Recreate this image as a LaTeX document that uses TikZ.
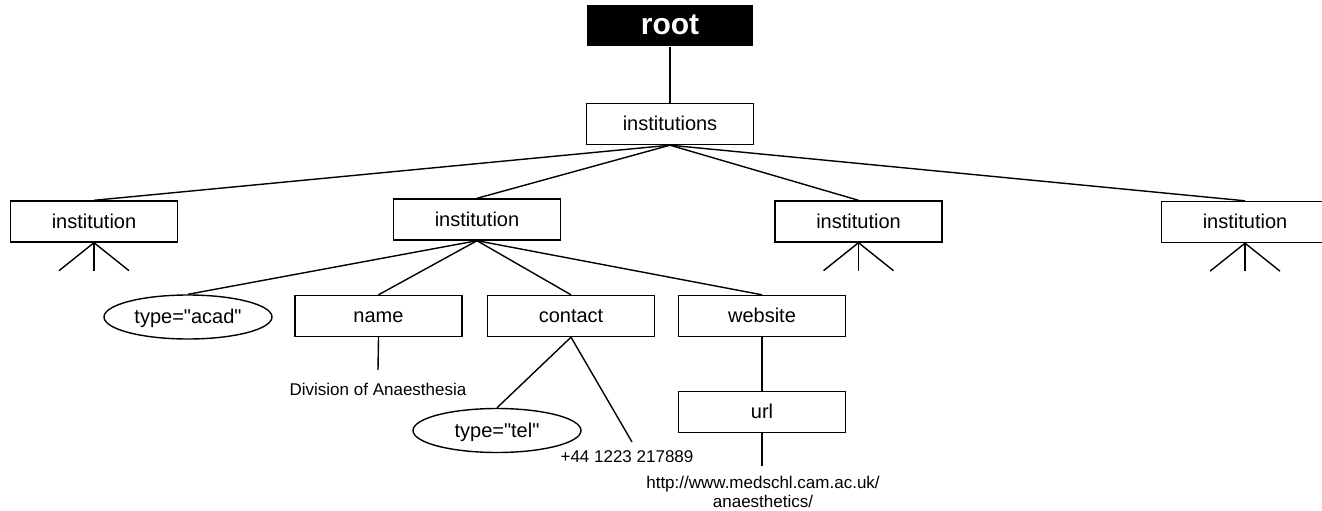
\documentclass[tikz,border=0pt]{standalone}
\usepackage{fontspec}
\setmainfont{Liberation Sans}[Ligatures=TeXOff]
\usetikzlibrary{shapes.geometric}
\begin{document}
\begin{tikzpicture}[x=1pt,y=-1pt,
  line width=1.4pt,
  elem/.style={draw, rectangle, minimum width=167pt, minimum height=41pt,
    inner sep=0pt, text height=17.6pt, text depth=4pt,
    font=\fontsize{20}{22}\selectfont},
  attr/.style={draw, ellipse, minimum width=168pt, minimum height=44pt,
    inner sep=0pt, text height=17pt, text depth=4pt,
    font=\fontsize{20}{22}\selectfont},
  val/.style={inner sep=0pt, font=\fontsize{17}{20}\selectfont, align=center},
  rootbox/.style={fill=black, text=white, minimum width=166pt, minimum height=41pt,
    inner sep=0pt, text height=23pt, text depth=4pt,
    font=\fontsize{30}{32}\bfseries\selectfont}]
\useasboundingbox (0,0) rectangle (1322,511);
\begin{scope}
\clip (0,0) rectangle (1322,511);

% document root and top-level element
\node[rootbox] (root) at (670,25.5) {root};
\node[elem] (insts) at (670,124) {institutions};

% the four institution elements
\node[elem] (inst1) at (94,221.5) {institution};
\node[elem] (inst2) at (477,219.5) {institution};
\node[elem] (inst3) at (858.5,221.5) {institution};
\node[elem] (inst4) at (1245,222) {institution};

% children of the expanded institution
\node[attr] (acad) at (188,317) {type="acad"};
\node[elem] (name) at (378.5,316) {name};
\node[elem] (contact) at (571,316) {contact};
\node[elem] (website) at (762,316) {website};
\node[attr] (tel) at (497,430.5) {type="tel"};
\node[elem] (url) at (762,412) {url};

% text content
\node[val] (div) at (378,389) {Division of Anaesthesia};
\node[val] (phone) at (627,457) {+44 1223 217889};
\node[val] (link) at (763,492) {http://www.medschl.cam.ac.uk/\\[-1.5pt]anaesthetics/};

\coordinate (divtop) at (378,370);
\coordinate (phonetop) at (632,442);
\coordinate (linktop) at (762,466);

% tree edges
\draw (root.south) -- (insts.north);
\foreach \n in {inst1,inst2,inst3,inst4}
  \draw (insts.south) -- (\n.north);
\draw (inst2.south) -- (acad.north);
\draw (inst2.south) -- (name.north);
\draw (inst2.south) -- (contact.north);
\draw (inst2.south) -- (website.north);
\draw (name.south) -- (divtop);
\draw (contact.south) -- (tel.north);
\draw (contact.south) -- (phonetop);
\draw (website.south) -- (url.north);
\draw (url.south) -- (linktop);

% collapsed subtrees
\foreach \n in {inst1,inst3,inst4} {
  \draw (\n.south) -- ++(-35,28);
  \draw (\n.south) -- ++(0,28);
  \draw (\n.south) -- ++(35,28);
}
\end{scope}
\end{tikzpicture}
\end{document}
